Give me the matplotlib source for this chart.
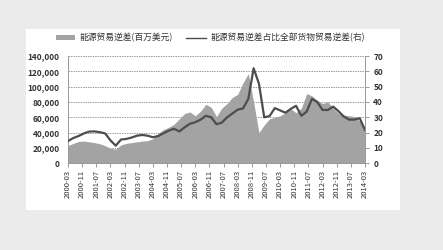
import numpy as np
import matplotlib
matplotlib.use('Agg')
import matplotlib.pyplot as plt
from matplotlib.patches import Rectangle, Patch
from matplotlib.lines import Line2D

plt.rcParams['font.family'] = ['Noto Sans CJK SC', 'DejaVu Sans']

# quarterly points, month offset from 2000-03
months = np.arange(0, 169, 3)

# energy trade deficit, million USD
deficit = [23000, 26000, 28500, 29000, 28000, 27000, 25500, 23000, 19500, 18500,
           24000, 26000, 27000, 28000, 29000, 29500, 32000, 39000, 44000, 47000,
           51000, 58000, 65000, 67000, 62000, 68000, 77000, 73000, 61000, 72000,
           78000, 86000, 90000, 105000, 117000, 80000, 40000, 50000, 58000, 60000,
           62000, 66000, 71000, 66000, 72000, 91000, 88000, 82000, 78000, 80000,
           72000, 65000, 63000, 62000, 61000, 55000, 46000]

# share of total goods trade deficit, %
share = [14.5, 16.5, 17.8, 19.5, 20.7, 20.8, 20.3, 19.5, 15.0, 11.5,
         15.5, 15.9, 16.8, 18.0, 18.5, 18.0, 17.0, 17.8, 19.6, 21.3,
         22.5, 20.8, 23.5, 25.8, 26.8, 28.5, 31.0, 30.0, 25.5, 26.5,
         30.0, 32.5, 35.0, 35.8, 42.0, 62.0, 52.0, 30.0, 30.8, 36.0,
         34.5, 33.0, 35.5, 37.5, 31.0, 33.7, 42.0, 40.0, 34.8, 34.8,
         37.0, 34.0, 30.5, 28.5, 28.5, 29.4, 21.8]

tick_labels = ['2000-03', '2000-11', '2001-07', '2002-03', '2002-11', '2003-07',
               '2004-03', '2004-11', '2005-07', '2006-03', '2006-11', '2007-07',
               '2008-03', '2008-11', '2009-07', '2010-03', '2010-11', '2011-07',
               '2012-03', '2012-11', '2013-07', '2014-03']
tick_pos = np.arange(0, 169, 8)

fig = plt.figure(figsize=(4.43, 2.5), dpi=100)
fig.patch.set_facecolor('#ebebeb')
# white chart panel
fig.patches.append(Rectangle((26 / 443, 1 - 210 / 250), 374 / 443, 181 / 250,
                             transform=fig.transFigure, facecolor='white',
                             edgecolor='none', zorder=-10))

ax = fig.add_axes([68 / 443, 1 - 163.3 / 250, 297 / 443, 107.3 / 250])
ax.set_facecolor('none')
ax.fill_between(months, deficit, 0, color='#a3a3a3', lw=0, zorder=2)
ax.set_xlim(0, 168)
ax.set_ylim(0, 140000)
ax.set_yticks(np.arange(0, 140001, 20000))
ax.set_yticklabels([f'{v:,}' for v in range(0, 140001, 20000)])
for v in range(20000, 140001, 20000):
    ax.axhline(v, color='#9a9a9a', lw=0.7, ls=(0, (1.5, 1)), zorder=1)
ax.set_xticks(tick_pos)
ax.set_xticklabels(tick_labels, rotation=90)
ax.tick_params(axis='y', length=0, pad=6, labelsize=6, labelcolor='#333333')
ax.tick_params(axis='x', length=3, width=0.6, color='#888888', pad=2,
               labelsize=5.5, labelcolor='#333333')
for s in ['top', 'right']:
    ax.spines[s].set_visible(False)
for s in ['left', 'bottom']:
    ax.spines[s].set_color('#999999')
    ax.spines[s].set_linewidth(0.7)
for lab in ax.get_yticklabels():
    lab.set_fontweight('bold')

ax2 = ax.twinx()
ax2.plot(months, share, color='#4d4d4d', lw=1.6, zorder=3)
ax2.set_ylim(0, 70)
ax2.set_yticks(np.arange(0, 71, 10))
ax2.tick_params(axis='y', length=3, width=0.6, color='#888888', pad=3,
                labelsize=6, labelcolor='#333333')
for lab in ax2.get_yticklabels():
    lab.set_fontweight('bold')
for s in ['top', 'left', 'bottom']:
    ax2.spines[s].set_visible(False)
ax2.spines['right'].set_color('#999999')
ax2.spines['right'].set_linewidth(0.7)

handles = [Patch(facecolor='#a3a3a3', edgecolor='none'),
           Line2D([0], [0], color='#4d4d4d', lw=1.0)]
fig.legend(handles, ['能源贸易逆差(百万美元)', '能源贸易逆差占比全部货物贸易逆差(右)'],
           loc='center', bbox_to_anchor=(210 / 443, 1 - 38 / 250), ncol=2,
           frameon=False, fontsize=6.3, handlelength=2.2, handleheight=0.35,
           columnspacing=1.6, handletextpad=0.5, labelcolor='#333333')

fig.savefig('out.png', dpi=100, facecolor=fig.get_facecolor())
